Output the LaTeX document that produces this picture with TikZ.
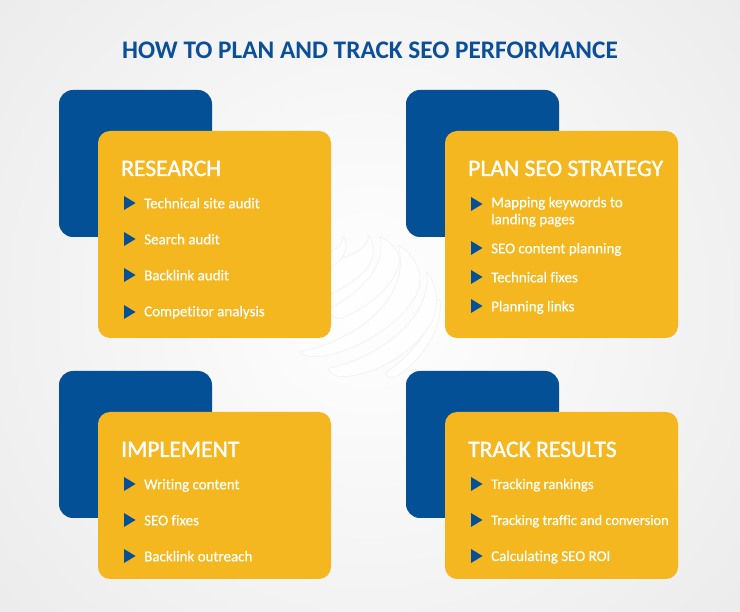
\documentclass[tikz,border=0pt]{standalone}
\usepackage{fontspec}
\setmainfont[Ligatures=NoCommon]{Carlito}
\newfontfamily\heavy[Ligatures=NoCommon,FakeBold=1.4]{Carlito}
\newfontfamily\semi[Ligatures=NoCommon,FakeBold=0.5]{Carlito}
\definecolor{bgc}{HTML}{ECEBEC}
\definecolor{bluec}{HTML}{045096}
\definecolor{yelc}{HTML}{F5B720}
\definecolor{titlec}{HTML}{0B4F98}
\definecolor{bandc}{HTML}{FEFEFE}
\definecolor{bandl}{HTML}{F2F2F2}
\tikzset{
  bluecard/.style={fill=bluec,rounded corners=14pt},
  yelcard/.style={fill=yelc,rounded corners=12pt},
  band/.style={fill=bandc,draw=bandl,line width=0.7pt,line join=round},
  head/.style={anchor=base west,inner sep=0pt,text=white,font=\heavy\fontsize{23.6}{26}\selectfont},
  item/.style={anchor=base west,inner sep=0pt,text=white,font=\semi\fontsize{15}{17}\selectfont},
  tri/.style={fill=bluec},
}
\newcommand{\bullt}[2]{\fill[tri] (#1,#2-7) -- (#1+11.5,#2) -- (#1,#2+7) -- cycle;}
\begin{document}
\begin{tikzpicture}[x=1pt,y=-1pt]
\useasboundingbox (0,0) rectangle (740,612);
\fill[bgc] (0,0) rectangle (740,612);
\begin{scope}
\clip (0,0) rectangle (740,612);
\shade[inner color=white,outer color=bgc] (370,300) circle (500);
\end{scope}
% globe
\begin{scope}[shift={(280,220)},x=0.3333pt,y=-0.3333pt]
\draw[band] (480,240) .. controls (490,320) and (430,420) .. (345,472) .. controls (330,475) and (320,470) .. (315,460) .. controls (400,400) and (460,320) .. (470,240) -- cycle;
\draw[band] (440,155) .. controls (470,190) and (475,240) .. (465,280) .. controls (440,370) and (300,470) .. (180,470) .. controls (160,468) and (150,460) .. (145,445) .. controls (280,420) and (460,300) .. (440,155) -- cycle;
\draw[band] (355,75) .. controls (400,100) and (425,150) .. (420,190) .. controls (405,290) and (220,410) .. (100,410) .. controls (80,410) and (65,405) .. (60,395) .. controls (200,370) and (400,250) .. (355,75) -- cycle;
\draw[band] (300,50) .. controls (340,70) and (360,100) .. (358,125) .. controls (350,190) and (270,260) .. (185,295) .. controls (170,297) and (155,290) .. (140,270) .. controls (240,220) and (320,140) .. (300,50) -- cycle;
\draw[band] (265,45) .. controls (285,70) and (285,110) .. (265,140) .. controls (240,175) and (190,205) .. (140,228) -- (140,120) .. controls (190,120) and (270,90) .. (265,45) -- cycle;
\draw[band] (190,50) .. controls (205,70) and (200,100) .. (175,125) .. controls (165,133) and (155,140) .. (140,145) -- (140,100) .. controls (160,90) and (190,80) .. (190,50) -- cycle;
\end{scope}
\node[anchor=base,inner sep=0pt,text=titlec,font=\fontsize{25.3}{28}\selectfont\bfseries] (title) at (370,59) {HOW TO PLAN AND TRACK SEO PERFORMANCE};
% Research
\fill[bluecard] (59,90) rectangle (212,237);
\fill[yelcard] (98,131) rectangle (331,338);
\node[head] (h1) at (121,176) {RESEARCH};
\bullt{124}{203}\node[item] (a1) at (144,208.3) {Technical site audit};
\bullt{124}{239}\node[item] (a2) at (144,244.3) {Search audit};
\bullt{124}{275}\node[item] (a3) at (144,280.3) {Backlink audit};
\bullt{124}{312}\node[item] (a4) at (144,316.3) {Competitor analysis};
% Plan
\fill[bluecard] (406,90) rectangle (559,237);
\fill[yelcard] (445,131) rectangle (678,338);
\node[head] (h2) at (468,176) {PLAN SEO STRATEGY};
\bullt{471}{204}\node[item,align=left,anchor=west] (b1) at (491,211.8) {Mapping keywords to\\landing pages};
\bullt{471}{248}\node[item] (b2) at (491,253.3) {SEO content planning};
\bullt{471}{277}\node[item] (b3) at (491,282.3) {Technical fixes};
\bullt{471}{306}\node[item] (b4) at (491,311.3) {Planning links};
% Implement
\fill[bluecard] (59,371) rectangle (212,518);
\fill[yelcard] (98,412) rectangle (331,579);
\node[head] (h3) at (121,457) {IMPLEMENT};
\bullt{124}{484}\node[item] (c1) at (144,489.3) {Writing content};
\bullt{124}{520}\node[item] (c2) at (144,525.3) {SEO fixes};
\bullt{124}{556}\node[item] (c3) at (144,561.3) {Backlink outreach};
% Track
\fill[bluecard] (406,371) rectangle (559,518);
\fill[yelcard] (445,412) rectangle (678,579);
\node[head] (h4) at (468,457) {TRACK RESULTS};
\bullt{471}{484}\node[item,font=\semi\fontsize{14.7}{17}\selectfont] (d1) at (491,489) {Tracking rankings};
\bullt{471}{520}\node[item,font=\semi\fontsize{14.4}{17}\selectfont] (d2) at (491,525) {Tracking traffic and conversion};
\bullt{471}{556}\node[item] (d3) at (491,561) {Calculating SEO ROI};
\end{tikzpicture}
\end{document}
